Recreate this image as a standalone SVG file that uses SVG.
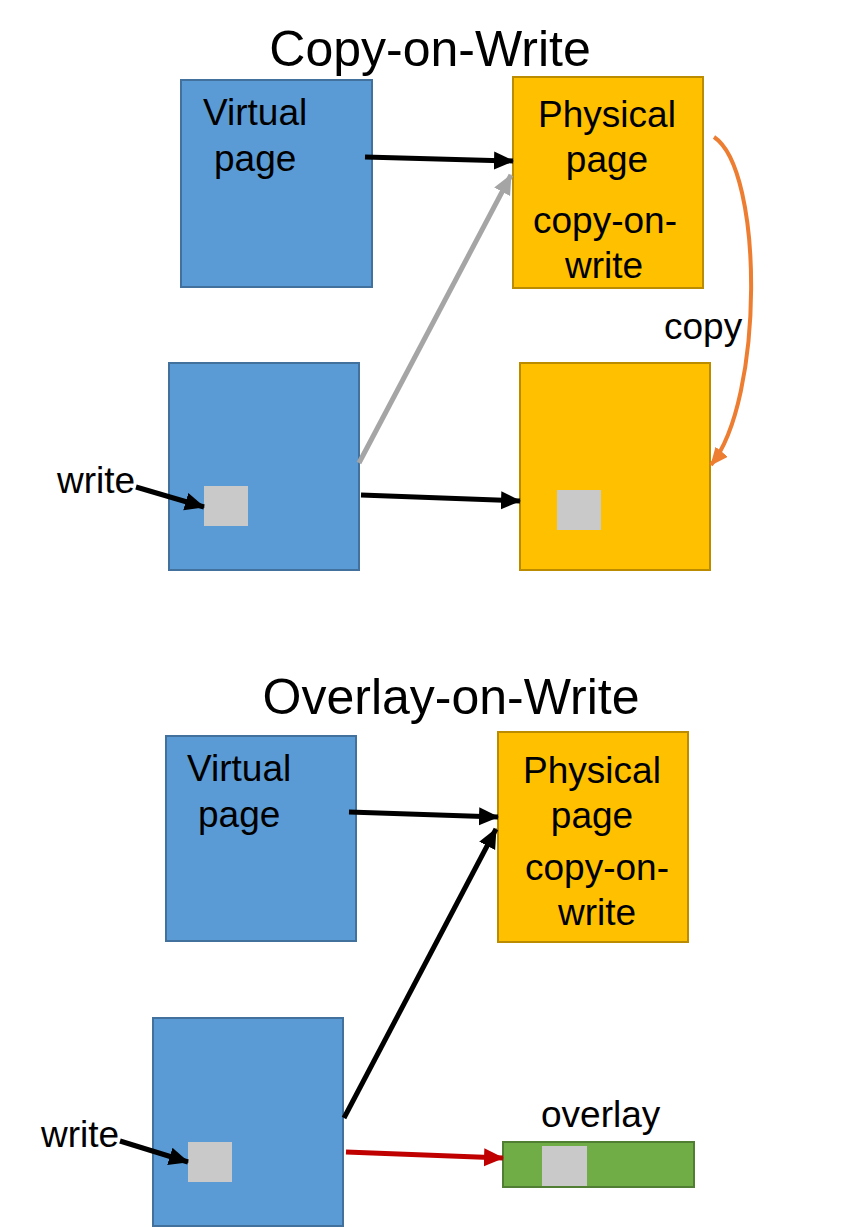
<svg xmlns="http://www.w3.org/2000/svg" width="842" height="1227" viewBox="0 0 842 1227">
<style>
text{font-family:"Liberation Sans",Arial,sans-serif;fill:#000}
.t{font-size:50px}
.l{font-size:37px}
.v{fill:#5b9bd5;stroke:#41719c;stroke-width:2}
.p{fill:#ffc000;stroke:#bc8c00;stroke-width:2}
.g{fill:#c9c9c9}
.o{fill:#70ad47;stroke:#507e32;stroke-width:2}
.c{fill:none;stroke-width:5}
</style>
<defs>
<marker id="ab" markerUnits="userSpaceOnUse" markerWidth="22" markerHeight="20" refX="19" refY="9" orient="auto"><path d="M0,0L20,9L0,18z" fill="#000"/></marker>
<marker id="ag" markerUnits="userSpaceOnUse" markerWidth="22" markerHeight="20" refX="19" refY="9" orient="auto"><path d="M0,0L20,9L0,18z" fill="#a5a5a5"/></marker>
<marker id="ar" markerUnits="userSpaceOnUse" markerWidth="22" markerHeight="20" refX="19" refY="9" orient="auto"><path d="M0,0L20,9L0,18z" fill="#c00000"/></marker>
<marker id="ao" markerUnits="userSpaceOnUse" markerWidth="20" markerHeight="16" refX="17" refY="8" orient="auto"><path d="M0,0L18,8L0,16z" fill="#ed7d31"/></marker>
</defs>
<text class="t" x="430" y="66" text-anchor="middle">Copy-on-Write</text>
<text class="t" x="451" y="714" text-anchor="middle">Overlay-on-Write</text>
<g id="vpage1"><rect class="v" x="181" y="80" width="191" height="207"/><text class="l" x="203" y="125">Virtual</text><text class="l" x="214" y="171">page</text></g>
<g id="ppage1"><rect class="p" x="513" y="77" width="190" height="211"/><text class="l" x="607" y="127" text-anchor="middle">Physical</text><text class="l" x="607" y="172" text-anchor="middle">page</text><text class="l" x="605" y="233" text-anchor="middle">copy-on-</text><text class="l" x="604" y="278" text-anchor="middle">write</text></g>
<g id="vpage2"><rect class="v" x="169" y="363" width="190" height="207"/><rect class="g" x="204" y="486" width="44" height="40"/></g>
<g id="ppage2"><rect class="p" x="520" y="363" width="190" height="207"/><rect class="g" x="557" y="490" width="44" height="40"/></g>
<g id="vpage3"><rect class="v" x="166" y="736" width="190" height="205"/><text class="l" x="187" y="781">Virtual</text><text class="l" x="198" y="827">page</text></g>
<g id="ppage3"><rect class="p" x="498" y="732" width="190" height="210"/><text class="l" x="592" y="783" text-anchor="middle">Physical</text><text class="l" x="592" y="828" text-anchor="middle">page</text><text class="l" x="597" y="880" text-anchor="middle">copy-on-</text><text class="l" x="597" y="925" text-anchor="middle">write</text></g>
<g id="vpage4"><rect class="v" x="153" y="1018" width="190" height="208"/><rect class="g" x="188" y="1142" width="44" height="40"/></g>
<g id="overlay"><rect class="o" x="503" y="1142" width="191" height="45"/><rect class="g" x="542" y="1146" width="45" height="40"/></g>
<g id="labels">
<text class="l" x="664" y="339">copy</text>
<text class="l" x="57" y="493">write</text>
<text class="l" x="41" y="1147">write</text>
<text class="l" x="541" y="1127">overlay</text>
</g>
<g id="connectors">
<path class="c" d="M365,157L513,161" stroke="#000" marker-end="url(#ab)"/>
<path class="c" d="M359,463L511,175" stroke="#a5a5a5" marker-end="url(#ag)"/>
<path class="c" d="M361,495L520,501" stroke="#000" marker-end="url(#ab)"/>
<path class="c" d="M136,487L204,507" stroke="#000" marker-end="url(#ab)"/>
<path d="M714,137C764,170 764,400 711,465" fill="none" stroke="#ed7d31" stroke-width="4" marker-end="url(#ao)"/>
<path class="c" d="M349,812L498,817" stroke="#000" marker-end="url(#ab)"/>
<path class="c" d="M344,1118L496,829" stroke="#000" marker-end="url(#ab)"/>
<path class="c" d="M346,1152L503,1158" stroke="#c00000" marker-end="url(#ar)"/>
<path class="c" d="M120,1141L188,1162" stroke="#000" marker-end="url(#ab)"/>
</g>
</svg>
